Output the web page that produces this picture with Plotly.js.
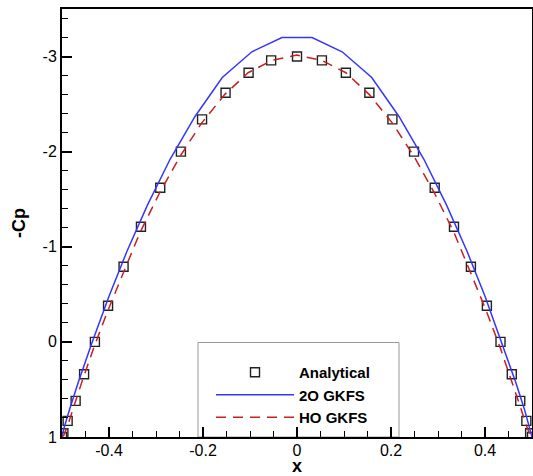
<!DOCTYPE html>
<html>
<head>
<meta charset="utf-8">
<script src="https://cdn.plot.ly/plotly-3.0.1.min.js"></script>
<style>html,body{margin:0;padding:0;background:#fff;}#chart{width:533px;height:476px;}</style>
</head>
<body>
<div id="chart"></div>
<script>
// Analytical
const analyticalX = [-0.500, -0.497, -0.488, -0.471, -0.453, -0.430, -0.402, -0.369, -0.332, -0.291, -0.247, -0.202, -0.152, -0.103, -0.055,
                     0.000, 0.053, 0.104, 0.154, 0.203, 0.249, 0.293, 0.334, 0.370, 0.404, 0.433, 0.457, 0.475, 0.488, 0.496, 0.500];
const analyticalY = [1.00, 0.96, 0.83, 0.62, 0.34, 0.00, -0.38, -0.79, -1.21, -1.62, -2.00, -2.34, -2.62, -2.83, -2.96,
                     -3.00, -2.96, -2.83, -2.62, -2.34, -2.00, -1.62, -1.21, -0.79, -0.38, 0.00, 0.34, 0.62, 0.83, 0.96, 1.00];
// 2O GKFS
const gkfs2oX = [-0.500, -0.496, -0.484, -0.465, -0.437, -0.400, -0.362, -0.318, -0.270, -0.217, -0.159, -0.096, -0.032,
                 0.032, 0.096, 0.159, 0.217, 0.270, 0.318, 0.362, 0.400, 0.437, 0.465, 0.484, 0.496, 0.500];
const gkfs2oY = [1.00, 0.91, 0.71, 0.42, 0.02, -0.48, -0.95, -1.44, -1.92, -2.37, -2.78, -3.05, -3.20,
                 -3.20, -3.05, -2.78, -2.37, -1.92, -1.44, -0.95, -0.48, 0.02, 0.42, 0.71, 0.91, 1.00];
// HO GKFS
const gkfsHoX = [-0.500, -0.496, -0.488, -0.475, -0.457, -0.433, -0.404, -0.370, -0.334, -0.293, -0.249, -0.203, -0.154, -0.104, -0.053,
                 0.000, 0.053, 0.104, 0.154, 0.203, 0.249, 0.293, 0.334, 0.370, 0.404, 0.433, 0.457, 0.475, 0.488, 0.496, 0.500];
const gkfsHoY = [1.00, 0.98, 0.88, 0.68, 0.41, 0.07, -0.31, -0.72, -1.15, -1.56, -1.95, -2.30, -2.60, -2.83, -2.96,
                 -3.015, -2.96, -2.83, -2.60, -2.30, -1.95, -1.56, -1.15, -0.72, -0.31, 0.07, 0.41, 0.68, 0.88, 0.98, 1.00];
const seriesNames = ['Analytical', '2O GKFS', 'HO GKFS'];
const xTickVals = [-0.4, -0.2, 0, 0.2, 0.4];
const xTickText = ['-0.4', '-0.2', '0', '0.2', '0.4'];
const yTickVals = [-3, -2, -1, 0, 1];
const yTickText = ['-3', '-2', '-1', '0', '1'];

const FONT = 'Liberation Sans, Arial, Helvetica, sans-serif';
const W = 533, H = 476;
const M = {l: 62, r: 1, t: 9, b: 39};
const pw = W - M.l - M.r, ph = H - M.t - M.b;
const px = v => (v - M.l) / pw;
const py = v => (H - M.b - v) / ph;

const traces = [
  {x: gkfs2oX, y: gkfs2oY, name: seriesNames[1], type: 'scatter', mode: 'lines',
   line: {color: '#3535ff', width: 1.5}},
  {x: gkfsHoX, y: gkfsHoY, name: seriesNames[2], type: 'scatter', mode: 'lines',
   line: {color: '#c82020', width: 1.5, dash: '10px,7px'}},
  {x: analyticalX, y: analyticalY, name: seriesNames[0], type: 'scatter', mode: 'markers',
   marker: {symbol: 'square-open', size: 9, color: '#222', line: {width: 1.4, color: '#222'}}}
];

const axisCommon = {
  showgrid: false, zeroline: false, showline: true, linecolor: '#000', linewidth: 2, mirror: true,
  ticks: 'inside', ticklen: 10, tickwidth: 2, tickcolor: '#000',
  tickfont: {family: FONT, size: 16, color: '#000'}
};

const layout = {
  width: W, height: H,
  margin: M,
  paper_bgcolor: '#fff', plot_bgcolor: '#fff',
  showlegend: true,
  legend: {
    x: px(211), y: py(356), xanchor: 'left', yanchor: 'top',
    bgcolor: 'rgba(0,0,0,0)', borderwidth: 0, itemwidth: 78,
    traceorder: 'normal',
    font: {family: FONT, size: 15, color: '#000', weight: 'bold'}
  },
  xaxis: Object.assign({}, axisCommon, {
    range: [-0.5, 0.5], tickvals: xTickVals, ticktext: xTickText,
    ticklabelstandoff: -2,
    minor: {dtick: 0.05, tick0: 0, ticks: 'inside', ticklen: 6, tickwidth: 1, tickcolor: '#000', showgrid: false},
    title: {text: 'x', font: {family: FONT, size: 18, color: '#000', weight: 'bold'}, standoff: 11}
  }),
  yaxis: Object.assign({}, axisCommon, {
    range: [1, -3.5], tickvals: yTickVals, ticktext: yTickText,
    minor: {dtick: 0.2, tick0: 0, ticks: 'inside', ticklen: 6, tickwidth: 1, tickcolor: '#000', showgrid: false},
    title: {text: '-Cp', font: {family: FONT, size: 18, color: '#000', weight: 'bold'}, standoff: 12}
  }),
  shapes: [
    {type: 'rect', xref: 'paper', yref: 'paper', x0: px(198), x1: px(399), y0: 0, y1: py(342.5),
     line: {color: '#999', width: 1}, fillcolor: 'rgba(255,255,255,0)', layer: 'below'}
  ]
};

// legend order: Analytical, 2O, HO
const ordered = [traces[2], traces[0], traces[1]];
Plotly.newPlot('chart', ordered, layout, {displayModeBar: false, staticPlot: true});
</script>
</body>
</html>
